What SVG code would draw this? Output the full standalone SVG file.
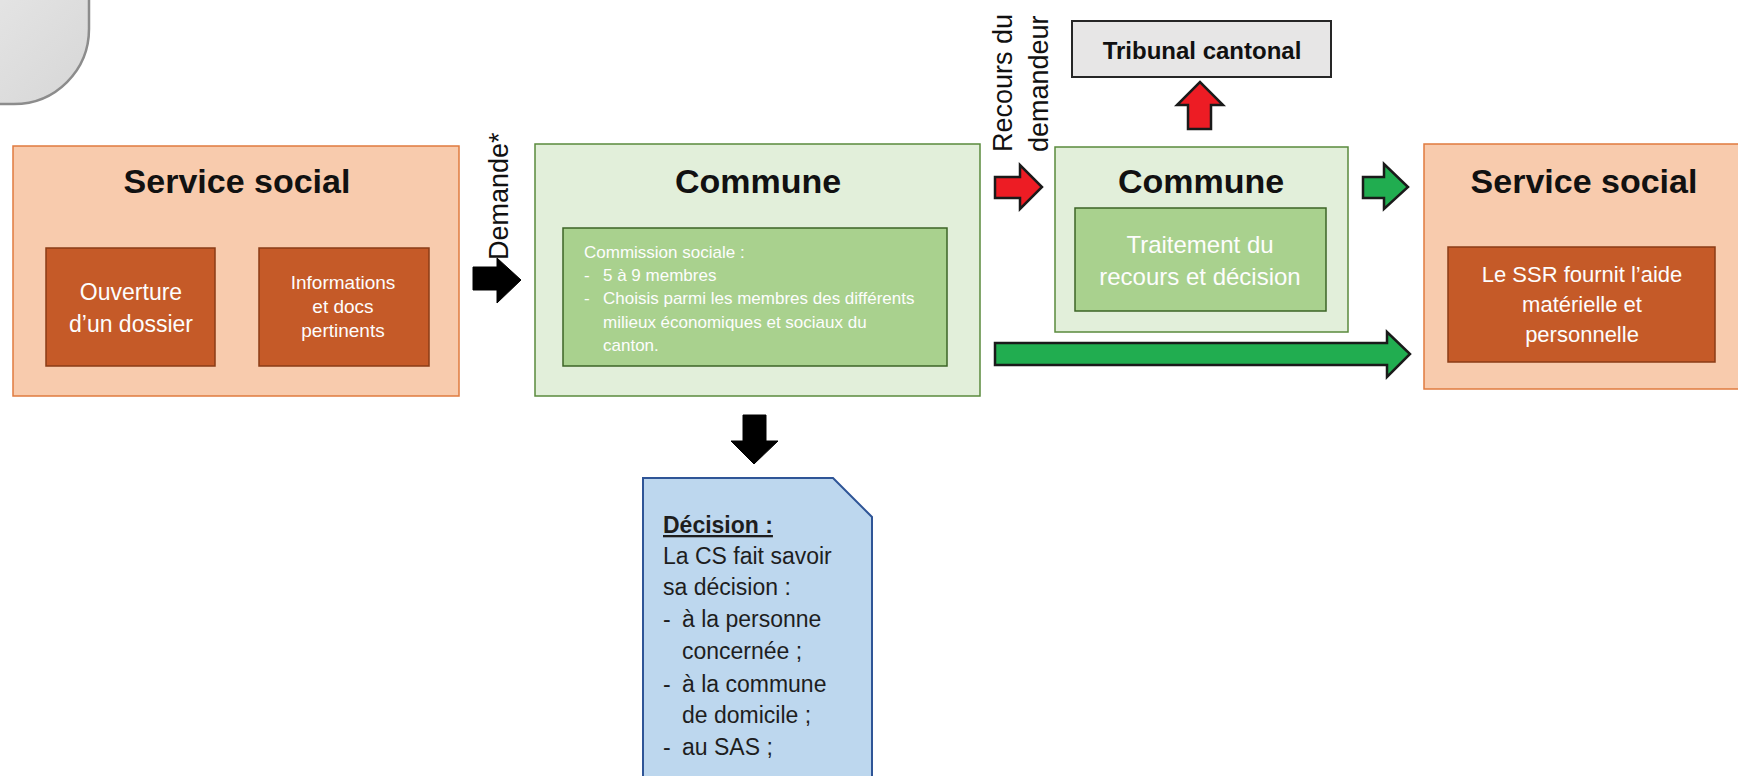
<svg xmlns="http://www.w3.org/2000/svg" width="1738" height="776" viewBox="0 0 1738 776">
  <style>
    .title { font-family: "Liberation Sans", Arial, sans-serif; font-weight: bold; font-size: 34px; fill: #111; text-anchor: middle; }
    .lbl { font-family: "Liberation Sans", Arial, sans-serif; fill: #fdfdfd; }
    .mid { text-anchor: middle; }
    .rot { font-family: "Liberation Sans", Arial, sans-serif; font-size: 27px; fill: #111; }
    .dark { font-family: "Liberation Sans", Arial, sans-serif; font-size: 23px; fill: #1e1e1e; }
    .svc { fill: #f8cbad; stroke: #e07b3f; stroke-width: 1.5; }
    .svc-in { fill: #c55a28; stroke: #8a3d16; stroke-width: 1.5; }
    .com { fill: #e2efda; stroke: #5a8a3c; stroke-width: 1.5; }
    .com-in { fill: #a9d18e; stroke: #3d6426; stroke-width: 1.5; }
    .arr { stroke: #1a1a1a; stroke-width: 2.5; stroke-linejoin: miter; }
    .red { fill: #ed1c24; }
    .green { fill: #21ad50; }
    .black { fill: #000; stroke: #000; stroke-width: 1; }
  </style>
  <defs>
    <linearGradient id="grayFill" x1="0" y1="0" x2="1" y2="1">
      <stop offset="0" stop-color="#f4f4f4"/>
      <stop offset="1" stop-color="#d6d6d6"/>
    </linearGradient>
  </defs>

  <rect width="1738" height="776" fill="#ffffff"/>

  <!-- corner shape -->
  <g id="corner">
    <rect x="-120" y="-120" width="209" height="224" rx="75" fill="url(#grayFill)" stroke="#8c8c8c" stroke-width="2.5"/>
  </g>

  <!-- left service -->
  <g id="service-social-1">
    <rect class="svc" x="13" y="146" width="446" height="250"/>
    <text class="title" x="237" y="193">Service social</text>
    <rect class="svc-in" x="46" y="248" width="169" height="118"/>
    <text class="lbl mid" font-size="23" x="131" y="300">Ouverture</text>
    <text class="lbl mid" font-size="23" x="131" y="332">d’un dossier</text>
    <rect class="svc-in" x="259" y="248" width="170" height="118"/>
    <text class="lbl mid" font-size="19" x="343" y="289">Informations</text>
    <text class="lbl mid" font-size="19" x="343" y="313">et docs</text>
    <text class="lbl mid" font-size="19" x="343" y="337">pertinents</text>
  </g>

  <!-- commune / commission -->
  <g id="commune-1">
    <rect class="com" x="535" y="144" width="445" height="252"/>
    <text class="title" x="758" y="193">Commune</text>
    <rect class="com-in" x="563" y="228" width="384" height="138"/>
    <text class="lbl" font-size="17">
      <tspan x="584" y="258">Commission sociale :</tspan>
      <tspan x="584" y="281">-</tspan><tspan x="603" y="281">5 à 9 membres</tspan>
      <tspan x="584" y="304">-</tspan><tspan x="603" y="304">Choisis parmi les membres des différents</tspan>
      <tspan x="603" y="328">milieux économiques et sociaux du</tspan>
      <tspan x="603" y="351">canton.</tspan>
    </text>
  </g>

  <!-- commune / recours -->
  <g id="commune-2">
    <rect class="com" x="1055" y="147" width="293" height="185"/>
    <text class="title" x="1201" y="193">Commune</text>
    <rect class="com-in" x="1075" y="208" width="251" height="103"/>
    <text class="lbl mid" font-size="24" x="1200" y="253">Traitement du</text>
    <text class="lbl mid" font-size="24" x="1200" y="285">recours et décision</text>
  </g>

  <!-- tribunal -->
  <g id="tribunal">
    <rect x="1072" y="21" width="259" height="56" fill="#e7e6e6" stroke="#262626" stroke-width="2"/>
    <text x="1202" y="59" font-family="Liberation Sans, Arial, sans-serif" font-weight="bold" font-size="24" fill="#111" text-anchor="middle">Tribunal cantonal</text>
  </g>

  <!-- right service -->
  <g id="service-social-2">
    <rect class="svc" x="1424" y="144" width="330" height="245"/>
    <text class="title" x="1584" y="193">Service social</text>
    <rect class="svc-in" x="1448" y="247" width="267" height="115"/>
    <text class="lbl mid" font-size="22" x="1582" y="282">Le SSR fournit l’aide</text>
    <text class="lbl mid" font-size="22" x="1582" y="312">matérielle et</text>
    <text class="lbl mid" font-size="22" x="1582" y="342">personnelle</text>
  </g>

  <!-- decision document -->
  <g id="decision">
    <path d="M643,478 L833,478 L872,517 L872,790 L643,790 Z" fill="#bdd7ee" stroke="#2f5597" stroke-width="2"/>
    <text class="dark" font-weight="bold" text-decoration="underline" x="663" y="533">Décision :</text>
    <text class="dark">
      <tspan x="663" y="564">La CS fait savoir</tspan>
      <tspan x="663" y="595">sa décision :</tspan>
      <tspan x="663" y="627">-</tspan><tspan x="682" y="627">à la personne</tspan>
      <tspan x="682" y="659">concernée ;</tspan>
      <tspan x="663" y="692">-</tspan><tspan x="682" y="692">à la commune</tspan>
      <tspan x="682" y="723">de domicile ;</tspan>
      <tspan x="663" y="755">-</tspan><tspan x="682" y="755">au SAS ;</tspan>
    </text>
  </g>

  <!-- connectors -->
  <g id="connectors">
    <path class="black" d="M473,267 L497,267 L497,258 L521,280 L497,303 L497,290 L473,290 Z"/>
    <path class="black" d="M743,415 L766,415 L766,441 L778,441 L754,464 L731,441 L743,441 Z"/>
    <path class="arr red" d="M995,177 L1020,177 L1020,165 L1042,187 L1020,209 L1020,198 L995,198 Z"/>
    <path class="arr red" d="M1188,129 L1188,105 L1177,105 L1200,82 L1223,105 L1211,105 L1211,129 Z"/>
    <path class="arr green" d="M1363,177 L1384,177 L1384,164 L1408,187 L1384,209 L1384,198 L1363,198 Z"/>
    <path class="arr green" d="M995,343 L1387,343 L1387,332 L1410,354 L1387,377 L1387,365 L995,365 Z"/>
    <text class="rot" transform="translate(508,260) rotate(-90)">Demande*</text>
    <text class="rot" transform="translate(1012,152) rotate(-90)">Recours du</text>
    <text class="rot" transform="translate(1048,152) rotate(-90)">demandeur</text>
  </g>
</svg>
